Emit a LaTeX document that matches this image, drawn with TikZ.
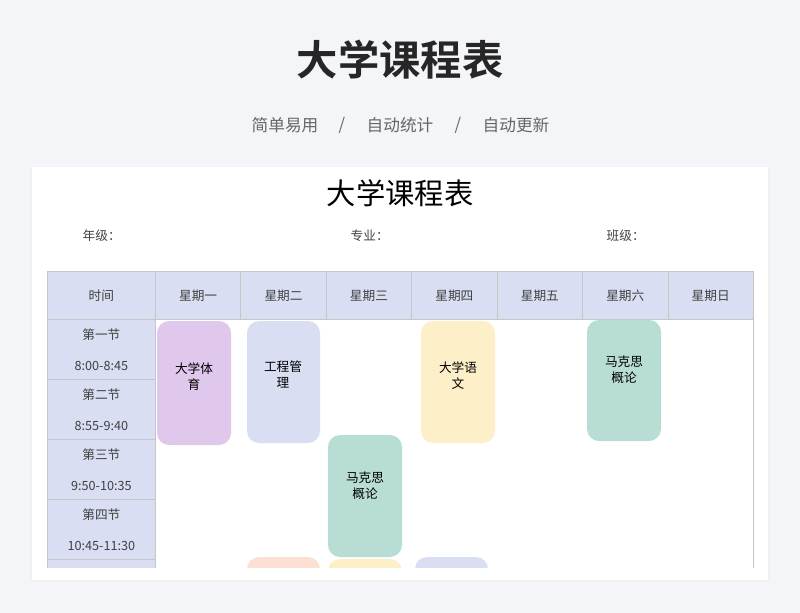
\documentclass[tikz,border=0pt]{standalone}
\usepackage{fontspec}
\setmainfont{Noto Sans CJK SC}
\newfontfamily\cjkb{Noto Sans CJK SC Bold}
\begin{document}
\begin{tikzpicture}[x=0.75pt,y=-0.75pt,
  cell/.style={draw=gray!45,fill=hdr,line width=0.6pt},
  course/.style={rounded corners=9pt,draw=none},
  ctext/.style={font=\fontsize{9.5}{12}\selectfont,align=center},
  ttext/.style={font=\fontsize{9.5}{11}\selectfont,text=black!75},
  subt/.style={font=\fontsize{12.5}{14}\selectfont,text=black!60}]
\definecolor{bg}{HTML}{F3F5F8}
\definecolor{hdr}{HTML}{D9DEF2}
\definecolor{purp}{HTML}{E0C8EC}
\definecolor{lav}{HTML}{D9DEF2}
\definecolor{teal}{HTML}{B8DDD4}
\definecolor{yel}{HTML}{FDEFC8}
\definecolor{peach}{HTML}{FDE0D4}
\fill[bg] (0,0) rectangle (800,613);
\useasboundingbox (0,0) rectangle (800,613);
\node[font=\cjkb\fontsize{31}{34}\selectfont,text=black!85] (title) at (400,60) {大学课程表};
\node[subt] (s1) at (285,125) {简单易用};
\node[subt] (s2) at (342,125) {/};
\node[subt] (s3) at (400,125) {自动统计};
\node[subt] (s4) at (458,125) {/};
\node[subt] (s5) at (516,125) {自动更新};
\fill[black!6] (30,167) rectangle (770,582);
\fill[white] (32,167) rectangle (768,580);
\node[font=\fontsize{22}{25}\selectfont] (it) at (400,193) {大学课程表};
\node[ttext,anchor=west] (g) at (78,236) {年级：};
\node[ttext,anchor=west] (z) at (346,236) {专业：};
\node[ttext,anchor=west] (b) at (602,236) {班级：};
\begin{scope}
\clip (40,265) rectangle (760,567);
\draw[gray!45,line width=0.6pt] (47,271) rectangle (753,600);
\node[cell,minimum width=81pt,minimum height=36pt,anchor=north west] (h0) at (47,271) {};
\node[ttext] at (h0) {时间};
\foreach \n [count=\i] in {一,二,三,四,五,六,日}{
  \pgfmathsetmacro\xx{155+(\i-1)*85.43}
  \node[cell,minimum width=64.07pt,minimum height=36pt,anchor=north west] (h\i) at (\xx,271) {};
  \node[ttext] at (h\i) {星期\n};
}
\foreach \a/\t [count=\i] in {一/8:00-8:45,二/8:55-9:40,三/9:50-10:35,四/10:45-11:30,五/}{
  \pgfmathsetmacro\yy{319+(\i-1)*60}
  \node[cell,minimum width=81pt,minimum height=45pt,anchor=north west] (r\i) at (47,\yy) {};
  \node[ttext] at ([yshift=-12pt]r\i.north) {第\a 节};
  \node[ttext] at ([yshift=10.5pt]r\i.south) {\t};
}
\fill[purp,course] (157,321) rectangle (231,445);
\node[ctext] (c1) at (194,377) {大学体\\育};
\fill[lav,course] (247,321) rectangle (320,443);
\node[ctext] (c2) at (283,374) {工程管\\理};
\fill[teal,course] (328,435) rectangle (402,557);
\node[ctext] (c3) at (365,486) {马克思\\概论};
\fill[yel,course] (421,321) rectangle (495,443);
\node[ctext] (c4) at (458,376) {大学语\\文};
\fill[teal,course] (587,320) rectangle (661,441);
\node[ctext] (c5) at (624,370) {马克思\\概论};
\fill[peach,course] (247,557) rectangle (320,620);
\fill[yel,course] (328,559) rectangle (402,620);
\fill[lav,course] (415,557) rectangle (488,620);
\end{scope}
\end{tikzpicture}
\end{document}
